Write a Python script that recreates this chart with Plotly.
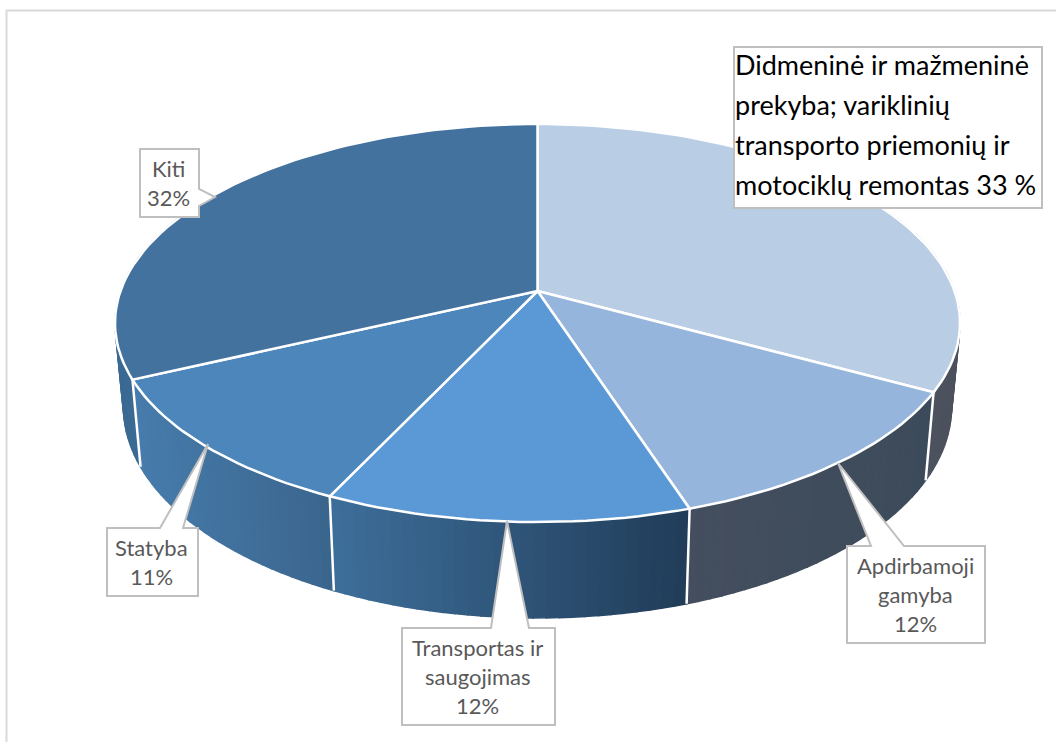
import math
import plotly.graph_objects as go

# --- data ---
categories = ["Didmeninė ir mažmeninė prekyba; variklinių transporto priemonių ir motociklų remontas",
              "Apdirbamoji gamyba", "Transportas ir saugojimas", "Statyba", "Kiti"]
shares = [33, 12, 12, 11, 32]
label_lines = [
    ["Didmeninė ir mažmeninė", "prekyba; variklinių", "transporto priemonių ir", "motociklų remontas 33 %"],
    ["Apdirbamoji", "gamyba", "12%"],
    ["Transportas ir", "saugojimas", "12%"],
    ["Statyba", "11%"],
    ["Kiti", "32%"],
]

# --- styles ---
top_colors = ["#b9cde5", "#95b5dc", "#5b99d6", "#4c86ba", "#44729f"]
# wall gradient, (colour at left end, colour at right end) on screen
wall_colors = [("#4c5461", "#4c515d"), ("#444e5e", "#3c4b5b"), ("#3d6e9a", "#213c58"),
               ("#477cac", "#3a658d"), ("#3a6992", "#3f709c")]
WIDTH, HEIGHT = 1056, 742
CX, CY, A, B, P = 537.5, 291.0, 417.0, 193.9, 0.1608
LOW_SX, LOW_SY, LOW_DY = 0.98, 1.06, 82.0


def top_point(deg):
    t = math.radians(deg)
    x, y = math.sin(t), -math.cos(t)
    d = 1 - P * y
    return A * x / d, B * y / d


def rim(deg):
    u, v = top_point(deg)
    return CX + u, CY + v


def low(deg):
    u, v = top_point(deg)
    return CX + u * LOW_SX, CY + LOW_DY + v * LOW_SY


def hex_rgb(h):
    return tuple(int(h[i:i + 2], 16) for i in (1, 3, 5))


def mix(c1, c2, f):
    a, b = hex_rgb(c1), hex_rgb(c2)
    return "rgb(%d,%d,%d)" % tuple(round(a[i] + (b[i] - a[i]) * f) for i in range(3))


edges = [0.0]
for s in shares:
    edges.append(edges[-1] + s / sum(shares) * 360)

fig = go.Figure()


def poly(xs, ys, fill, line, width):
    fig.add_trace(go.Scatter(x=xs, y=ys, mode="lines", fill="toself", fillcolor=fill,
                             line=dict(color=line, width=width), hoverinfo="skip", showlegend=False))


# side walls, split in narrow strips for the gradient
for i, (c_left, c_right) in enumerate(wall_colors):
    a0, a1 = edges[i], edges[i + 1]
    if i == 0:
        a0 = 60
    if i == len(wall_colors) - 1:
        a1 = 300
    n = max(4, int((a1 - a0) / 1.5))
    order = range(n) if i != len(wall_colors) - 1 else range(n - 1, -1, -1)
    xs_all = [rim(a0 + (a1 - a0) * k / n)[0] for k in range(n + 1)]
    lo, hi = min(xs_all), max(xs_all)
    for k in order:
        b0 = a0 + (a1 - a0) * k / n
        b1 = a0 + (a1 - a0) * (k + 1) / n
        p = [rim(b0), rim(b1), low(b1), low(b0), rim(b0)]
        f = ((xs_all[k] + xs_all[k + 1]) / 2 - lo) / (hi - lo)
        col = mix(c_left, c_right, f)
        poly([q[0] for q in p], [q[1] for q in p], col, col, 1.5)

# white separators on the walls
for e in edges[1:-1]:
    a, b = rim(e), low(e)
    fig.add_trace(go.Scatter(x=[a[0], b[0]], y=[a[1], b[1]], mode="lines",
                             line=dict(color="white", width=2.5), hoverinfo="skip", showlegend=False))

# top face
for i, col in enumerate(top_colors):
    a0, a1 = edges[i], edges[i + 1]
    n = max(8, int((a1 - a0) / 1.5))
    pts = [rim(a0 + (a1 - a0) * k / n) for k in range(n + 1)]
    xs = [CX] + [q[0] for q in pts] + [CX]
    ys = [CY] + [q[1] for q in pts] + [CY]
    poly(xs, ys, col, "white", 2.5)

# --- callouts ---
GREY = "#bfbfbf"
callouts = [
    dict(box=(734, 47, 1042, 208), ptr=None, side=None),
    dict(box=(847, 546, 985, 643), ptr=((871, 546), (838, 463), (904, 546)), side="top"),
    dict(box=(402, 628, 555, 725), ptr=((491, 628), (507, 521), (529, 628)), side="top"),
    dict(box=(107, 528, 198, 596), ptr=((160, 528), (208, 444), (183, 528)), side="top"),
    dict(box=(140, 149, 199, 217), ptr=((199, 189), (215, 197), (199, 206)), side="right"),
]
shapes = [dict(type="path", path="M 6.5 742 L 6.5 10.5 L 1056 10.5", line=dict(color="#d9d9d9", width=2),
               layer="below")]
annotations = []
for idx, c in enumerate(callouts):
    x0, y0, x1, y1 = c["box"]
    if c["side"] == "top":
        (a, t, b) = c["ptr"]
        path = f"M {x0} {y0} L {a[0]} {a[1]} L {t[0]} {t[1]} L {b[0]} {b[1]} L {x1} {y0} L {x1} {y1} L {x0} {y1} Z"
    elif c["side"] == "right":
        (a, t, b) = c["ptr"]
        path = f"M {x0} {y0} L {x1} {y0} L {a[0]} {a[1]} L {t[0]} {t[1]} L {b[0]} {b[1]} L {x1} {y1} L {x0} {y1} Z"
    else:
        path = f"M {x0} {y0} L {x1} {y0} L {x1} {y1} L {x0} {y1} Z"
    shapes.append(dict(type="path", path=path, fillcolor="white", line=dict(color=GREY, width=2), layer="above"))
    lines = label_lines[idx]
    big = idx == 0
    spacing = 40 if big else 29
    yc = (y0 + y1) / 2 + (-3 if big else 0)
    for j, txt in enumerate(lines):
        annotations.append(dict(
            x=x0 - 1 if big else (x0 + x1) / 2 - 1,
            y=yc + (j - (len(lines) - 1) / 2) * spacing,
            xref="x", yref="y", text=txt, showarrow=False,
            xanchor="left" if big else "center", yanchor="middle",
            font=dict(family="Lato", size=27 if big else 22, color="#000000" if big else "#595959"),
        ))

fig.update_layout(
    width=WIDTH, height=HEIGHT, margin=dict(l=0, r=0, t=0, b=0),
    paper_bgcolor="white", plot_bgcolor="white", showlegend=False,
    xaxis=dict(range=[0, WIDTH], visible=False, fixedrange=True),
    yaxis=dict(range=[HEIGHT, 0], visible=False, fixedrange=True),
    shapes=shapes, annotations=annotations,
)
fig.write_html("out.html", config={"displayModeBar": False},
               post_script="document.body.style.margin='0';document.body.style.overflow='hidden';")
